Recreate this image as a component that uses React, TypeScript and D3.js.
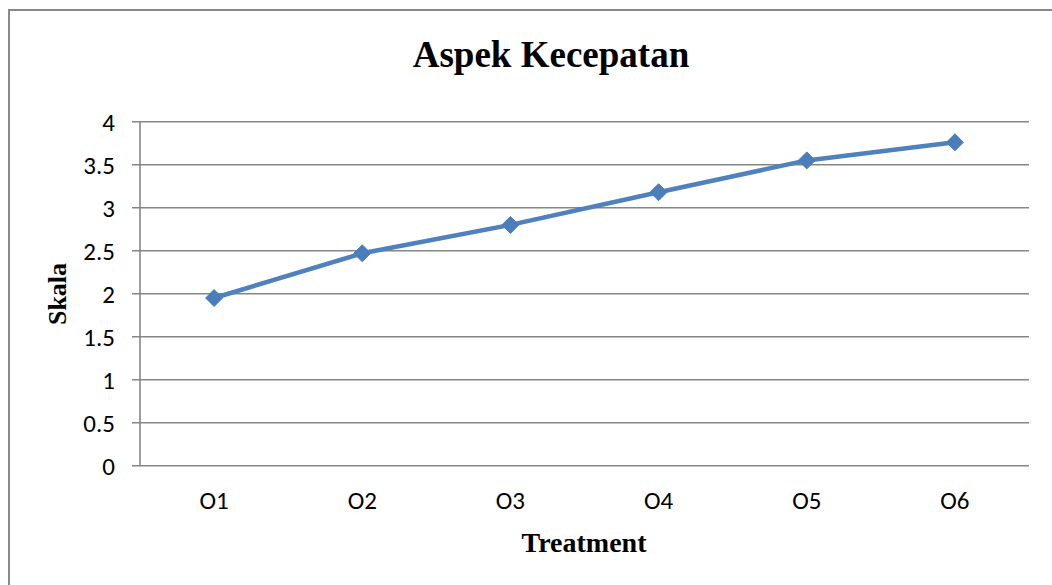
import React from "react";
import * as d3 from "d3";

const categories = ["O1", "O2", "O3", "O4", "O5", "O6"];
const values = [1.95, 2.47, 2.8, 3.18, 3.55, 3.76];
const yTicks = [0, 0.5, 1, 1.5, 2, 2.5, 3, 3.5, 4];
const title = "Aspek Kecepatan";
const xTitle = "Treatment";
const yTitle = "Skala";

const W = 1052;
const H = 585;
const plot = { left: 140, right: 1029, top: 121.7, bottom: 465.7 };

export default function App() {
  const x = d3.scaleBand<string>().domain(categories).range([plot.left, plot.right]);
  const y = d3.scaleLinear().domain([0, 4]).range([plot.bottom, plot.top]);
  const cx = (c: string) => (x(c) as number) + x.bandwidth() / 2;
  const line = d3
    .line<number>()
    .x((_, i) => cx(categories[i]))
    .y((d) => y(d));
  const grid = "#868686";
  const tickFont = "Carlito, Lato, 'Open Sans', sans-serif";
  const serif = "'Liberation Serif', 'Times New Roman', serif";

  return (
    <svg
      width={W}
      height={H}
      style={{ position: "absolute", left: 0, top: 0, background: "#fff" }}
    >
      <rect x={9} y={10} width={W + 20} height={H + 20} fill="#fff" stroke="#888" strokeWidth={2} />
      {yTicks.map((t) => (
        <g key={t}>
          <line x1={plot.left - 8} x2={plot.right} y1={y(t)} y2={y(t)} stroke={grid} strokeWidth={1.6} />
          <text
            x={115}
            y={y(t)}
            dy="0.36em"
            textAnchor="end"
            fontFamily={tickFont}
            fontSize={25}
            fill="#000"
          >
            {t}
          </text>
        </g>
      ))}
      <line x1={plot.left} x2={plot.left} y1={plot.top} y2={plot.bottom} stroke={grid} strokeWidth={1.6} />
      {categories.map((c) => (
        <text
          key={c}
          x={cx(c)}
          y={509}
          textAnchor="middle"
          fontFamily={tickFont}
          fontSize={25}
          fill="#000"
        >
          {c}
        </text>
      ))}
      <path d={line(values) || ""} fill="none" stroke="#4F81BD" strokeWidth={4.5} strokeLinejoin="round" />
      {values.map((v, i) => {
        const px = cx(categories[i]);
        const py = y(v);
        const r = 8.5;
        return (
          <path
            key={i}
            d={`M${px},${py - r}L${px + r},${py}L${px},${py + r}L${px - r},${py}Z`}
            fill="#4A7EBB"
            stroke="#4A7EBB"
            strokeWidth={1}
          />
        );
      })}
      <text x={551} y={67} textAnchor="middle" fontFamily={serif} fontWeight="bold" fontSize={37} fill="#000">
        {title}
      </text>
      <text x={584} y={552} textAnchor="middle" fontFamily={serif} fontWeight="bold" fontSize={28} fill="#000">
        {xTitle}
      </text>
      <text
        transform={`translate(66,294) rotate(-90)`}
        textAnchor="middle"
        fontFamily={serif}
        fontWeight="bold"
        fontSize={26}
        fill="#000"
      >
        {yTitle}
      </text>
    </svg>
  );
}
